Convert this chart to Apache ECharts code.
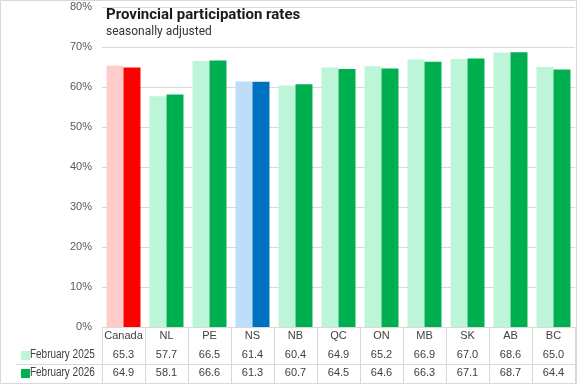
<!DOCTYPE html>
<html><head><meta charset="utf-8">
<script src="https://cdn.jsdelivr.net/npm/echarts@6/dist/echarts.min.js"></script>
<style>html,body{margin:0;padding:0;background:#fff}#c{width:577px;height:385px}</style>
</head><body><div id="c"></div>
<script>
const categories = ['Canada','NL','PE','NS','NB','QC','ON','MB','SK','AB','BC'];
const feb2025 = [65.3,57.7,66.5,61.4,60.4,64.9,65.2,66.9,67.0,68.6,65.0];
const feb2026 = [64.9,58.1,66.6,61.3,60.7,64.5,64.6,66.3,67.1,68.7,64.4];
const seriesNames = ['February 2025','February 2026'];
const yTicks = [0,10,20,30,40,50,60,70,80];

const light = '#BDF5D8', dark = '#00B050';
const special = {Canada:['#FFCCCC','#FF0000'], NS:['#BDDDF8','#0070C0']};
function items(vals, idx){
  return vals.map((v,i)=>{
    const s = special[categories[i]];
    return s ? {value:v, itemStyle:{color:s[idx]}} : v;
  });
}
const fmt = a => a.map(v=>v.toFixed(1));
const txt = '#404040';
const chart = echarts.init(document.getElementById('c'));
chart.setOption({
  animation:false,
  textStyle:{fontFamily:'Liberation Sans, Arial, sans-serif'},
  grid:{left:102,right:2,top:7,bottom:58},
  title:{text:'Provincial participation rates',subtext:'seasonally adjusted',left:101,top:3,itemGap:3,
    textStyle:{fontSize:15,fontWeight:'bold',color:'#1a1a1a',fontFamily:'Roboto'},
    subtextStyle:{fontSize:12,color:'#333',fontFamily:'Roboto'}},
  xAxis:[
    {type:'category',data:categories,
     axisLine:{lineStyle:{color:'#D9D9D9'}},
     axisTick:{show:true,length:56,interval:0,lineStyle:{color:'#D9D9D9'}},
     axisLabel:{margin:3,fontSize:11,color:txt,interval:0}},
    {type:'category',data:fmt(feb2025),position:'bottom',offset:19,
     axisLine:{show:false},axisTick:{show:false},axisLabel:{margin:3,fontSize:11,color:txt,interval:0}},
    {type:'category',data:fmt(feb2026),position:'bottom',offset:37,
     axisLine:{show:false},axisTick:{show:false},axisLabel:{margin:3,fontSize:11,color:txt,interval:0}}
  ],
  yAxis:{type:'value',min:yTicks[0],max:yTicks[yTicks.length-1],interval:10,
    axisLabel:{formatter:'{value}%',fontSize:11,color:'#595959',margin:10},
    splitLine:{lineStyle:{color:'#D9D9D9'}},axisLine:{show:false},axisTick:{show:false}},
  series:[
    {name:seriesNames[0],type:'bar',data:items(feb2025,0),itemStyle:{color:light},barGap:'0%',barCategoryGap:'21%'},
    {name:seriesNames[1],type:'bar',data:items(feb2026,1),itemStyle:{color:dark},barGap:'0%',barCategoryGap:'21%'}
  ],
  legend:{show:false},
  graphic:[
    {type:'rect',shape:{x:0.5,y:0.5,width:576,height:383},style:{fill:'none',stroke:'#D9D9D9',lineWidth:1},silent:true},
    {type:'line',shape:{x1:16,y1:364.5,x2:575,y2:364.5},style:{stroke:'#D9D9D9',lineWidth:1}},
    {type:'rect',shape:{x:21,y:351,width:9,height:9},style:{fill:light}},
    {type:'rect',shape:{x:21,y:369,width:9,height:9},style:{fill:dark}},
    {type:'text',x:30,y:349,scaleX:0.83,style:{text:seriesNames[0],fontSize:12,fill:txt}},
    {type:'text',x:30,y:367,scaleX:0.83,style:{text:seriesNames[1],fontSize:12,fill:txt}}
  ]
});
</script></body></html>
